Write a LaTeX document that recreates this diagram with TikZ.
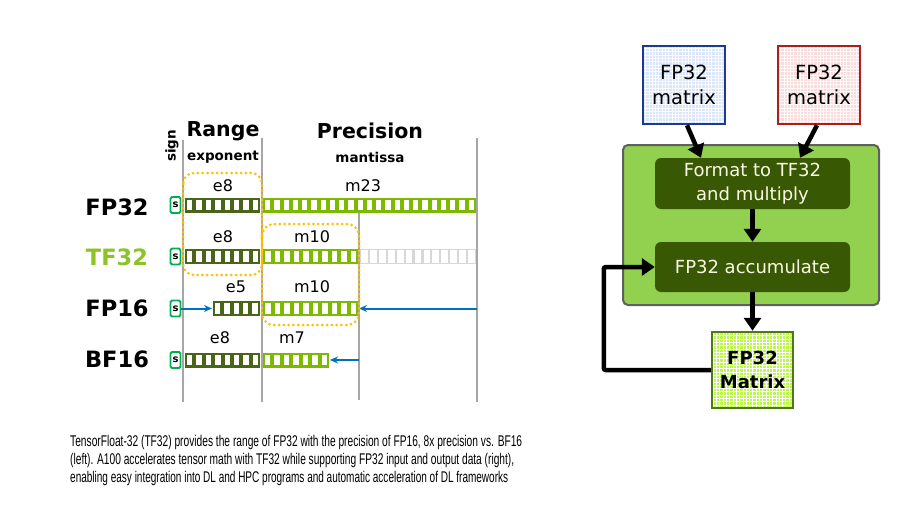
\documentclass[tikz,border=0pt]{standalone}
\usepackage{fontspec}
\usepackage{graphicx}
\setmainfont{DejaVu Sans}
\newfontfamily\capfont{Liberation Sans}
\usetikzlibrary{arrows.meta}
\definecolor{expc}{RGB}{74,100,24}
\definecolor{mantc}{RGB}{125,185,0}
\definecolor{greyc}{RGB}{215,215,215}
\definecolor{sgreen}{RGB}{0,176,80}
\definecolor{tfgreen}{RGB}{140,195,40}
\definecolor{dotc}{RGB}{255,192,0}
\definecolor{arrblue}{RGB}{0,112,192}
\definecolor{vline}{RGB}{166,166,166}
\definecolor{coregreen}{RGB}{146,208,80}
\definecolor{coreborder}{RGB}{95,95,95}
\definecolor{darkbox}{RGB}{56,88,4}
\definecolor{cream}{RGB}{250,250,228}
\definecolor{mblue}{RGB}{30,58,140}
\definecolor{mbluefill}{RGB}{218,229,250}
\definecolor{mbluegrid}{RGB}{250,252,255}
\definecolor{mred}{RGB}{170,30,30}
\definecolor{mredfill}{RGB}{250,218,218}
\definecolor{mredgrid}{RGB}{255,250,250}
\definecolor{mgreen}{RGB}{80,120,20}
\definecolor{mgreenfill}{RGB}{190,245,80}
\newcommand\bitbar[6]{%
  \fill[#4] (#1,#2-7.5) rectangle ({#1+#3*#5},#2+7.5);
  \foreach \i in {1,...,#3} \fill[white] ({#1+(\i-1)*#5+#6},{#2-7.5+1.2*#6}) rectangle ({#1+\i*#5-#6},{#2+7.5-1.2*#6});
}
\tikzset{
  sbox/.style={draw=sgreen, line width=1.8pt, fill=white, rounded corners=1.5pt, minimum width=10pt, minimum height=16pt, inner sep=0pt, font=\bfseries\fontsize{10}{10}\selectfont},
  rowlab/.style={font=\bfseries\fontsize{22.5}{22.5}\selectfont, inner sep=0pt},
  bitlab/.style={font=\fontsize{16}{16}\selectfont, inner sep=0pt},
  head/.style={font=\bfseries\fontsize{20.5}{20.5}\selectfont, inner sep=0pt},
  subhead/.style={font=\bfseries\fontsize{13.5}{13.5}\selectfont, inner sep=0pt},
  gline/.style={draw=vline, line width=1.3pt},
  dotbox/.style={draw=dotc, line width=3pt, line cap=round, dash pattern=on 0pt off 4.8pt},
  bluearrow/.style={draw=arrblue, line width=2pt, -{Stealth[length=8pt,width=7pt]}},
  matbox/.style={line width=2.5pt, minimum width=82pt, minimum height=78pt, align=center, inner sep=0pt, font=\fontsize{19.5}{25}\selectfont},
  darkstep/.style={fill=darkbox, rounded corners=6pt, minimum width=195pt, align=center, inner sep=0pt, text=cream, font=\fontsize{18}{24}\selectfont},
  bigarrow/.style={line width=4.5pt, -{Triangle[length=13pt,width=17pt]}},
  capline/.style={anchor=west, inner sep=0pt, font=\capfont\fontsize{15.5}{15.5}\selectfont}
}
\begin{document}
\begin{tikzpicture}[x=1pt,y=-1pt]
\useasboundingbox (0,0) rectangle (915,509);
\fill[white] (0,0) rectangle (915,509);
% grey guide lines
\draw[gline] (183,140) -- (183,402);
\draw[gline] (262,138) -- (262,402);
\draw[gline] (359,213) -- (359,400);
\draw[gline] (477,138) -- (477,402);
% headings
\node[subhead, rotate=90] (sign) at (172,146) {sign};
\node[head] (range) at (223,131) {Range};
\node[head] (prec) at (370,131) {Precision};
\node[subhead] (expo) at (223,157) {exponent};
\node[subhead] (mant) at (370,157) {mantissa};
% row labels
\node[rowlab] (fp32) at (117,207) {FP32};
\node[rowlab, text=tfgreen] (tf32) at (117,257) {TF32};
\node[rowlab] (fp16) at (117,308) {FP16};
\node[rowlab] (bf16) at (117,359) {BF16};
% FP32 row
\node[sbox] (s1) at (175.5,205) {s};
\bitbar{185}{205}{8}{expc}{9.375}{2.0}
\bitbar{263}{205}{23}{mantc}{9.26}{2.0}
\node[bitlab] (l1e) at (223,186) {e8};
\node[bitlab] (l1m) at (363,186) {m23};
% TF32 row
\node[sbox] (s2) at (175.5,256.5) {s};
\bitbar{185}{256.5}{8}{expc}{9.375}{2.0}
\bitbar{263}{256.5}{10}{mantc}{9.5}{2.0}
\bitbar{360}{256.5}{13}{greyc}{8.92}{1.1}
\node[bitlab] (l2e) at (223,237) {e8};
\node[bitlab] (l2m) at (312,237) {m10};
% FP16 row
\node[sbox] (s3) at (175.5,308.5) {s};
\bitbar{213}{308.5}{5}{expc}{9.3}{2.0}
\bitbar{263}{308.5}{10}{mantc}{9.5}{2.0}
\node[bitlab] (l3e) at (236,287) {e5};
\node[bitlab] (l3m) at (312,287) {m10};
\coordinate (e5start) at (212,308.5);
\coordinate (m10end) at (359,308.5);
\coordinate (rightedge) at (477,308.5);
\draw[bluearrow] (s3.east) -- (e5start);
\draw[bluearrow] (rightedge) -- (m10end);
% BF16 row
\node[sbox] (s4) at (175.5,360) {s};
\bitbar{185}{360}{8}{expc}{9.375}{2.0}
\bitbar{263}{360}{7}{mantc}{9.43}{2.0}
\node[bitlab] (l4e) at (220,338) {e8};
\node[bitlab] (l4m) at (292,338) {m7};
\coordinate (m7end) at (330,360);
\coordinate (midline) at (359,360);
\draw[bluearrow] (midline) -- (m7end);
% dotted highlight boxes
\draw[dotbox, rounded corners=11pt] (183,173) rectangle (262,275);
\draw[dotbox, rounded corners=12pt] (262,224) rectangle (359,325);
% right diagram
\node[draw=coreborder, fill=coregreen, line width=2pt, rounded corners=5pt, minimum width=256pt, minimum height=160pt] (core) at (751,225) {};
\node[matbox, draw=mblue, fill=mbluefill,
  path picture={\draw[mbluegrid, line width=0.7pt] (path picture bounding box.south west) grid[step=3.3pt] (path picture bounding box.north east);}] (mA) at (684,85) {FP32\\matrix};
\node[matbox, draw=mred, fill=mredfill,
  path picture={\draw[mredgrid, line width=0.7pt] (path picture bounding box.south west) grid[step=3.3pt] (path picture bounding box.north east);}] (mB) at (819,85) {FP32\\matrix};
\node[darkstep, minimum height=51pt] (fmt) at (752.5,183.5) {Format to TF32\\and multiply};
\node[darkstep, minimum height=50pt] (acc) at (752.5,267) {FP32 accumulate};
\node[matbox, draw=mgreen, fill=mgreenfill, minimum width=81pt, minimum height=76pt, font=\bfseries\fontsize{18}{24}\selectfont,
  path picture={\draw[white, line width=0.8pt] (path picture bounding box.south west) grid[step=3.3pt] (path picture bounding box.north east);}] (fm) at (752.5,370) {FP32\\Matrix};
\draw[bigarrow] ([xshift=3pt]mA.south) -- ([xshift=-51.5pt]fmt.north);
\draw[bigarrow] ([xshift=-2pt]mB.south) -- ([xshift=47.5pt]fmt.north);
\draw[bigarrow] (fmt.south) -- (acc.north);
\draw[bigarrow] (acc.south) -- (fm.north);
\draw[bigarrow, rounded corners=2pt] (fm.west) -- ++(-107,0) |- (acc.west);
% caption
\node[capline] (c1) at (70,442) {\resizebox{452pt}{\height}{TensorFloat-32 (TF32) provides the range of FP32 with the precision of FP16, 8x precision vs. BF16}};
\node[capline] (c2) at (70,460) {\resizebox{444pt}{\height}{(left). A100 accelerates tensor math with TF32 while supporting FP32 input and output data (right),}};
\node[capline] (c3) at (70,478) {\resizebox{438pt}{\height}{enabling easy integration into DL and HPC programs and automatic acceleration of DL frameworks}};
\end{tikzpicture}
\end{document}
